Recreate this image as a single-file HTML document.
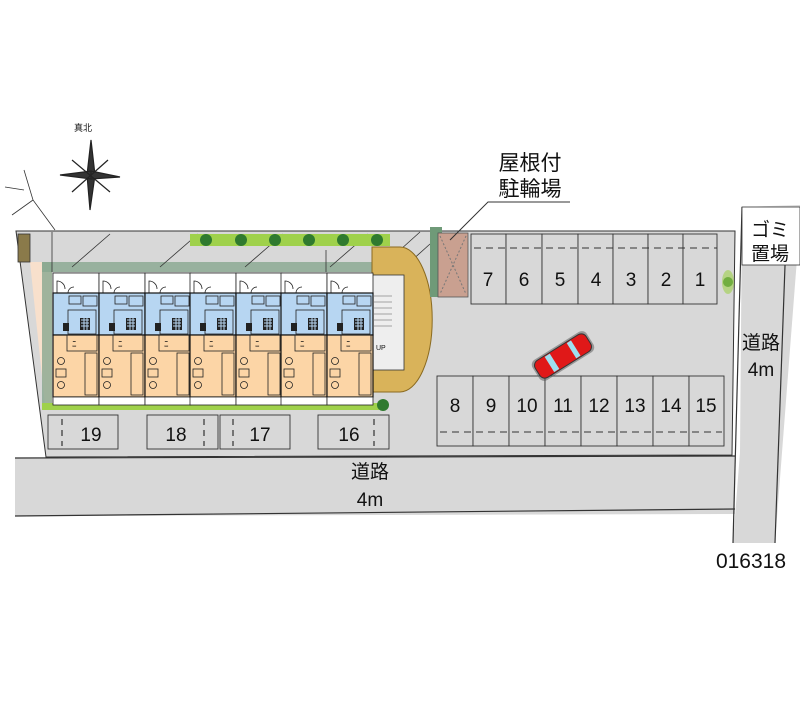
<!DOCTYPE html>
<html><head><meta charset="utf-8"><style>
html,body{margin:0;padding:0;background:#fff;}
svg{display:block}
text{font-family:"Liberation Sans","Noto Sans CJK JP",sans-serif;fill:#111}
</style></head><body>
<svg width="800" height="727" viewBox="0 0 800 727" xmlns="http://www.w3.org/2000/svg">
<defs>
<g id="unit">
  <rect x="0" y="0" width="46" height="20" fill="#fff" stroke="#222" stroke-width="0.8"/>
  <path d="M4 20 v-12 a8 8 0 0 1 8 8" fill="none" stroke="#222" stroke-width="0.8"/>
  <path d="M15 20 a6 6 0 0 1 6-6" fill="none" stroke="#222" stroke-width="0.8"/>
  <rect x="0" y="20" width="46" height="42" fill="#b7d6f2" stroke="#111" stroke-width="1.2"/>
  <rect x="16" y="23" width="12" height="8" fill="none" stroke="#222" stroke-width="0.8"/>
  <rect x="30" y="23" width="14" height="10" fill="none" stroke="#222" stroke-width="0.8"/>
  <rect x="15" y="37" width="28" height="24" fill="none" stroke="#222" stroke-width="0.8"/>
  <rect x="27" y="45" width="10" height="12" fill="#222"/>
  <path d="M28 47h8M28 50h8M28 53h8M31 45v12M34 45v12" stroke="#b7d6f2" stroke-width="1"/>
  <rect x="10" y="50" width="6" height="8" fill="#222"/>
  <rect x="0" y="62" width="46" height="62" fill="#fcd5a6" stroke="#111" stroke-width="1.2"/>
  <rect x="14" y="62" width="30" height="16" fill="none" stroke="#222" stroke-width="0.8"/>
  <text x="19" y="74" font-size="9">ﾆ</text>
  <rect x="32" y="80" width="12" height="42" fill="none" stroke="#222" stroke-width="0.8"/>
  <circle cx="8" cy="88" r="3.5" fill="none" stroke="#222" stroke-width="0.8"/>
  <rect x="3" y="96" width="10" height="8" fill="none" stroke="#222" stroke-width="0.8"/>
  <circle cx="8" cy="112" r="3.5" fill="none" stroke="#222" stroke-width="0.8"/>
  <rect x="0" y="124" width="46" height="8" fill="#fff" stroke="#222" stroke-width="0.8"/>
</g>
</defs>

<polygon points="16,231 735,231 732,455 46,457" fill="#d8d8d8" stroke="#333" stroke-width="1"/>
<polygon points="30,262 52,262 52,405 45,405" fill="#f8e0cc"/>
<rect x="42" y="262" width="330" height="10" fill="#88a890" opacity="0.8"/>
<rect x="42" y="262" width="10" height="142" fill="#88a890" opacity="0.8"/>
<g stroke="#333" stroke-width="0.8">
<line x1="52" y1="232" x2="52" y2="272"/>
<line x1="72" y1="267" x2="110" y2="234"/>
<line x1="160" y1="267" x2="198" y2="234"/>
<line x1="245" y1="267" x2="283" y2="234"/>
<line x1="330" y1="267" x2="368" y2="234"/>
<line x1="326" y1="250" x2="326" y2="272"/>
<line x1="400" y1="250" x2="420" y2="232"/>
<line x1="410" y1="262" x2="430" y2="244"/>
</g>
<rect x="190" y="234" width="200" height="12" fill="#9fd14b"/>
<g fill="#2f7a2f"><circle cx="206" cy="240" r="6"/><circle cx="241" cy="240" r="6"/><circle cx="275" cy="240" r="6"/><circle cx="309" cy="240" r="6"/><circle cx="343" cy="240" r="6"/><circle cx="377" cy="240" r="6"/></g>
<rect x="42" y="403" width="340" height="7" fill="#9fd14b"/>
<circle cx="383" cy="405" r="6" fill="#2f7a2f"/>
<rect x="18" y="234" width="12" height="28" fill="#8a7a4a" stroke="#333" stroke-width="0.8"/>

<path d="M372 247 H400 A32 72 0 0 1 400 392 H372 Z" fill="#d9b35a" stroke="#8a6a20" stroke-width="1"/>
<rect x="372" y="275" width="32" height="95" fill="#eee" stroke="#333" stroke-width="0.8"/>
<g stroke="#555" stroke-width="0.6"><line x1="374" y1="296" x2="392" y2="296"/><line x1="374" y1="302" x2="392" y2="302"/><line x1="374" y1="308" x2="392" y2="308"/><line x1="374" y1="314" x2="392" y2="314"/><line x1="374" y1="320" x2="392" y2="320"/><line x1="374" y1="326" x2="392" y2="326"/></g>
<text x="376" y="350" font-size="7">UP</text>

<use href="#unit" x="53" y="273"/>
<use href="#unit" x="99" y="273"/>
<use href="#unit" x="145" y="273"/>
<use href="#unit" x="190" y="273"/>
<use href="#unit" x="236" y="273"/>
<use href="#unit" x="281" y="273"/>
<use href="#unit" x="327" y="273"/>

<rect x="430" y="227" width="12" height="70" fill="#6f9a78"/>
<rect x="438" y="233" width="30" height="64" fill="#c9a090" stroke="#555" stroke-width="0.8"/>
<path d="M440 236 L466 294 M466 236 L440 294" stroke="#777" stroke-dasharray="2 2"/>

<g fill="#d8d8d8" stroke="#333" stroke-width="0.9">
<rect x="471" y="234" width="35" height="70"/><rect x="506" y="234" width="36" height="70"/><rect x="542" y="234" width="36" height="70"/><rect x="578" y="234" width="35" height="70"/><rect x="613" y="234" width="35" height="70"/><rect x="648" y="234" width="35" height="70"/><rect x="683" y="234" width="34" height="70"/>
</g>
<line x1="474" y1="248" x2="717" y2="248" stroke="#333" stroke-width="1" stroke-dasharray="7 5"/>
<g font-size="19" text-anchor="middle">
<text x="488" y="286">7</text><text x="524" y="286">6</text><text x="560" y="286">5</text><text x="596" y="286">4</text><text x="631" y="286">3</text><text x="666" y="286">2</text><text x="700" y="286">1</text>
</g>
<circle cx="728" cy="282" r="5" fill="#2f7a2f"/>
<ellipse cx="728" cy="282" rx="6" ry="12" fill="#9fd14b" opacity="0.6"/>

<g fill="#d8d8d8" stroke="#333" stroke-width="0.9">
<rect x="437" y="376" width="36" height="70"/><rect x="473" y="376" width="36" height="70"/><rect x="509" y="376" width="36" height="70"/><rect x="545" y="376" width="36" height="70"/><rect x="581" y="376" width="36" height="70"/><rect x="617" y="376" width="36" height="70"/><rect x="653" y="376" width="36" height="70"/><rect x="689" y="376" width="35" height="70"/>
</g>
<line x1="440" y1="432" x2="722" y2="432" stroke="#333" stroke-width="1" stroke-dasharray="7 5"/>
<g font-size="19" text-anchor="middle">
<text x="455" y="412">8</text><text x="491" y="412">9</text><text x="527" y="412">10</text><text x="563" y="412">11</text><text x="599" y="412">12</text><text x="635" y="412">13</text><text x="671" y="412">14</text><text x="706" y="412">15</text>
</g>

<g transform="translate(563,356) rotate(-32)">
<rect x="-32" y="-12" width="64" height="24" rx="6" fill="#555" opacity="0.5"/>
<rect x="-30" y="-10" width="60" height="20" rx="6" fill="#e01818" stroke="#333" stroke-width="1"/>
<rect x="-16" y="-9" width="6" height="18" fill="#9fe0f0"/>
<rect x="10" y="-9" width="5" height="18" fill="#9fe0f0"/>
</g>

<g fill="#d8d8d8" stroke="#333" stroke-width="0.9">
<rect x="48" y="415" width="70" height="34"/><rect x="147" y="415" width="71" height="34"/><rect x="220" y="415" width="70" height="34"/><rect x="318" y="415" width="71" height="34"/>
</g>
<g stroke="#333" stroke-width="1.2" stroke-dasharray="6 5">
<line x1="62" y1="419" x2="62" y2="446"/><line x1="204" y1="419" x2="204" y2="446"/><line x1="233" y1="419" x2="233" y2="446"/><line x1="374" y1="419" x2="374" y2="446"/>
</g>
<g font-size="19" text-anchor="middle">
<text x="91" y="441">19</text><text x="176" y="441">18</text><text x="260" y="441">17</text><text x="349" y="441">16</text>
</g>

<polygon points="15,458 735,456 735,514 15,516" fill="#d8d8d8"/>
<line x1="15" y1="458" x2="735" y2="456" stroke="#333" stroke-width="1.2"/>
<line x1="15" y1="516" x2="735" y2="509" stroke="#333" stroke-width="1.2"/>
<polygon points="742,207 800,205 800,220 775,543 733,543 740,452" fill="#d8d8d8"/>
<line x1="742" y1="207" x2="733" y2="543" stroke="#333" stroke-width="1.2"/>
<line x1="787" y1="210" x2="775" y2="543" stroke="#333" stroke-width="1.2"/>
<rect x="742" y="207" width="58" height="58" fill="#fff" stroke="#333" stroke-width="0.8"/>
<text x="770" y="236" font-size="19" text-anchor="middle">ゴミ</text>
<text x="770" y="260" font-size="19" text-anchor="middle">置場</text>
<text x="761" y="349" font-size="19" text-anchor="middle">道路</text>
<text x="761" y="376" font-size="19" text-anchor="middle">4m</text>
<text x="370" y="478" font-size="19" text-anchor="middle">道路</text>
<text x="370" y="506" font-size="19" text-anchor="middle">4m</text>
<text x="751" y="568" font-size="21" text-anchor="middle">016318</text>

<text x="530" y="170" font-size="21" text-anchor="middle">屋根付</text>
<text x="530" y="196" font-size="21" text-anchor="middle">駐輪場</text>
<polyline points="570,202 488,202 450,240" fill="none" stroke="#333" stroke-width="1"/>

<g stroke="#222" stroke-width="1.2" fill="#333">
<polygon points="91,140 95,175 87,175"/>
<polygon points="90,210 95,175 87,175"/>
<polygon points="60,175 91,171 91,179"/>
<polygon points="120,177 91,171 91,179"/>
<line x1="72" y1="160" x2="110" y2="192"/><line x1="108" y1="160" x2="72" y2="192"/>
</g>
<text x="83" y="131" font-size="9" text-anchor="middle">真北</text>
<g stroke="#333" stroke-width="0.8" fill="none">
<polyline points="24,170 33,200 55,230"/><polyline points="33,200 12,215"/><polyline points="5,187 24,190"/>
</g>
</svg>
</body></html>
